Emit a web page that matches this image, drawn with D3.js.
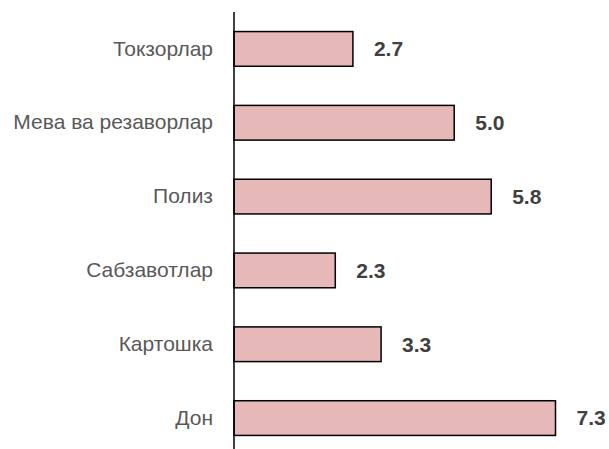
<!DOCTYPE html>
<html>
<head>
<meta charset="utf-8">
<script src="https://cdn.jsdelivr.net/npm/d3@7"></script>
<style>
  body { margin: 0; background: #fff; }
  svg { display: block; font-family: Arial, "Liberation Sans", sans-serif; }
</style>
</head>
<body>
<svg class="chart"></svg>
<script>
// Data
var categories = ["Токзорлар", "Мева ва резаворлар", "Полиз", "Сабзавотлар", "Картошка", "Дон"];
var values = [2.7, 5.0, 5.84, 2.3, 3.34, 7.3];

var W = 609, H = 449;
var margin = { top: 12, left: 234 };

var svg = d3.select(".chart")
    .attr("width", W)
    .attr("height", H);

// Band scale for the categories (top to bottom)
var y = d3.scaleBand()
    .domain(categories)
    .range([margin.top, margin.top + 443])
    .paddingInner(0.53)
    .paddingOuter(0.265);

// Linear scale for the values
var x = d3.scaleLinear()
    .domain([0, 7.3])
    .range([margin.left, 555.5]);

var fmt = d3.format(".1f");

var data = categories.map(function (c, i) {
    return { name: c, value: values[i] };
});

// Bars
svg.selectAll(".bar")
    .data(data)
    .enter().append("rect")
    .attr("class", "bar")
    .attr("x", x(0))
    .attr("y", function (d) { return y(d.name); })
    .attr("width", function (d) { return x(d.value) - x(0); })
    .attr("height", y.bandwidth())
    .attr("fill", "#e6b8b7")
    .attr("stroke", "#000")
    .attr("stroke-width", 1.5);

// Value labels
svg.selectAll(".val")
    .data(data)
    .enter().append("text")
    .attr("class", "val")
    .attr("x", function (d) { return x(d.value) + 21; })
    .attr("y", function (d) { return y(d.name) + y.bandwidth() / 2; })
    .attr("dy", "0.35em")
    .attr("font-size", 21)
    .attr("font-weight", "bold")
    .attr("fill", "#404040")
    .text(function (d) { return fmt(d.value); });

// Y axis (line only, labels to the left)
var yAxis = d3.axisLeft(y).tickSize(0).tickPadding(21);
var gy = svg.append("g")
    .attr("transform", "translate(" + margin.left + ",0)")
    .call(yAxis);

gy.select(".domain")
    .attr("stroke", "#000")
    .attr("stroke-width", 1.5)
    .attr("d", "M0," + margin.top + "V" + (margin.top + 443));

gy.selectAll("text")
    .attr("font-size", 21)
    .attr("font-family", "Arial, 'Liberation Sans', sans-serif")
    .attr("fill", "#595959");
</script>
</body>
</html>
